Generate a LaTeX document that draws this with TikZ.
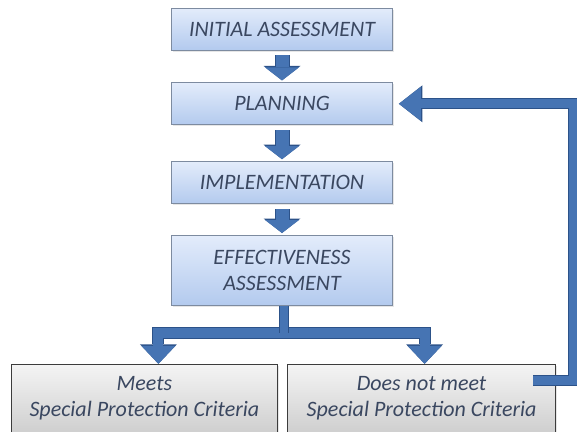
\documentclass[tikz,border=0pt]{standalone}
\usepackage{fontspec}
\setmainfont{Carlito}
\usepackage{xcolor}
\usetikzlibrary{arrows.meta,positioning,shadows}

\definecolor{boxtop}{HTML}{E3ECFB}
\definecolor{boxbot}{HTML}{B3CAEE}
\definecolor{boxedge}{HTML}{7D8BA0}
\definecolor{crittop}{HTML}{F4F4F4}
\definecolor{critbot}{HTML}{CFCFCF}
\definecolor{critedge}{HTML}{3C3C3C}
\definecolor{txt}{HTML}{3A4760}
\definecolor{arrfill}{HTML}{4674B3}
\definecolor{arredge}{HTML}{2C5289}

\begin{document}
\begin{tikzpicture}[
  stage/.style  = {draw=boxedge, line width=0.8pt, top color=boxtop, bottom color=boxbot,
                   minimum width=221pt, minimum height=42pt, align=center, inner sep=2pt,
                   font=\fontsize{22}{26}\selectfont\itshape, text=txt,
                   drop shadow={opacity=0.2, shadow xshift=1.5pt, shadow yshift=-1.5pt}},
  crit/.style   = {stage, draw=critedge, line width=1.2pt, top color=crittop,
                   bottom color=critbot, minimum height=68pt},
  flow/.style   = {line width=13pt, draw=arrfill, shorten <=5pt, shorten >=2pt,
                   -{Triangle[length=13pt, width=34pt, line width=0pt]},
                   preaction={draw=arredge, line width=15pt,
                   -{Triangle[length=14.5pt, width=37pt, line width=0pt]}}},
  stem/.style   = {line width=8pt, draw=arrfill,
                   preaction={draw=arredge, line width=10pt}},
  branch/.style = {line width=10pt, draw=arrfill, line join=miter,
                   {Triangle[length=18pt, width=34pt, line width=0pt]}-{Triangle[length=18pt, width=34pt, line width=0pt]},
                   preaction={draw=arredge, line width=12pt,
                   {Triangle[length=19.5pt, width=37pt, line width=0pt]}-{Triangle[length=19.5pt, width=37pt, line width=0pt]}}},
  loopback/.style = {line width=9pt, draw=arrfill, line join=miter,
                   -{Triangle[length=22pt, width=34pt, line width=0pt]},
                   preaction={draw=arredge, line width=11pt,
                   -{Triangle[length=23.5pt, width=37pt, line width=0pt]}}}
]
\useasboundingbox (0,0) rectangle (577pt,-431pt);

%% ---- main sequence ------------------------------------------------
\node[stage] (ia) at (282pt,-29pt) {INITIAL ASSESSMENT};
\node[stage, below=32pt of ia] (pl) {PLANNING};
\node[stage, below=36pt of pl] (im) {IMPLEMENTATION};
\node[stage, below=31pt of im, minimum height=70pt] (ea) {EFFECTIVENESS\\ASSESSMENT};

\draw[flow] (ia) -- (pl);
\draw[flow] (pl) -- (im);
\draw[flow] (im) -- (ea);

%% ---- outcomes -----------------------------------------------------
\node[crit, below=58pt of ea.south, anchor=north east, xshift=-4pt, minimum width=266pt]
  (mc) {Meets\\Special Protection Criteria};
\node[crit, below=58pt of ea.south, anchor=north west, xshift=5pt, minimum width=268pt]
  (nm) {Does not meet\\Special Protection Criteria};

\coordinate[below=27pt of ea.south] (fork);
\coordinate (dropl) at ([xshift=14pt]mc.north);
\coordinate (dropr) at ([xshift=3pt]nm.north);

\draw[branch] (dropl) -- (dropl |- fork) -- (dropr |- fork) -- (dropr);
\draw[stem] ([xshift=2pt]ea.south) -- ([xshift=2pt]fork);

%% ---- back to planning ---------------------------------------------
\draw[loopback] ([xshift=-23pt,yshift=18pt]nm.east) -- ++(40pt,0)
  |- ([xshift=6pt]pl.east);
\end{tikzpicture}
\end{document}
